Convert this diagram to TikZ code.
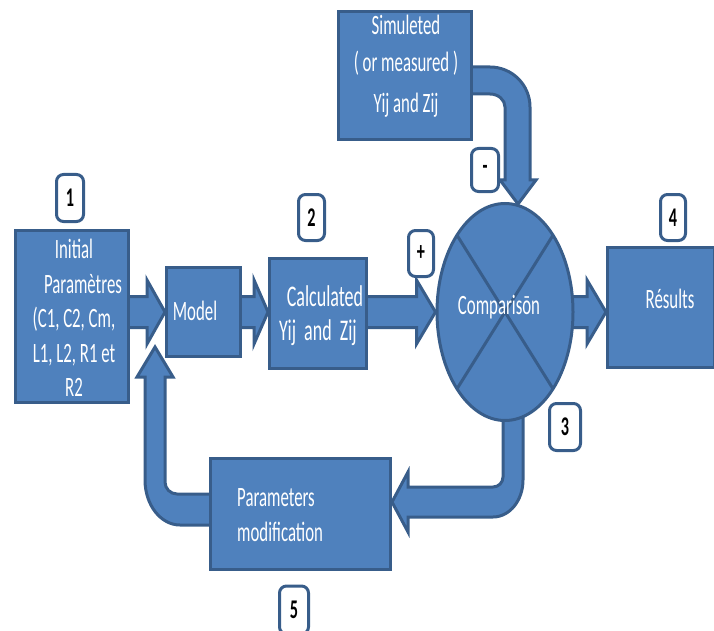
\documentclass[tikz,border=0pt]{standalone}
\usepackage{fontspec}
\setmainfont{Carlito}[FakeStretch=0.6]
\usetikzlibrary{shapes.geometric,calc}
\pgfdeclarelayer{bg}
\pgfsetlayers{bg,main}
\definecolor{bfill}{RGB}{79,129,189}
\definecolor{bline}{RGB}{56,93,138}
\tikzset{
 blk/.style={draw=bline,fill=bfill,line width=3pt,inner sep=0pt},
 txt/.style={text=white,font=\fontsize{28}{34.5}\selectfont,inner sep=0pt,align=center},
 tag/.style={draw=bline,fill=white,line width=3pt,rounded corners=7pt,inner sep=0pt,font=\fontsize{27}{27}\selectfont\bfseries,text=black},
 barrow/.style={draw=bline,fill=bfill,line width=3pt,line join=miter},
 xline/.style={draw=bline,line width=3pt,shorten >=1.5pt,shorten <=1.5pt},
}
\newcommand\hblock[3]{%
 \draw[barrow] let \p1=(#1),\p2=(#2) in (\x1-3pt,\y1+15.5pt) -- (\x2-#3pt,\y1+15.5pt) -- (\x2-#3pt,\y1+32pt) -- (\x2,\y1) -- (\x2-#3pt,\y1-32pt) -- (\x2-#3pt,\y1-15.5pt) -- (\x1-3pt,\y1-15.5pt) -- cycle;}
\begin{document}
\begin{tikzpicture}[x=1pt,y=1pt]
\useasboundingbox (0,0) rectangle (714,-631);
\clip (0,0) rectangle (714,-631);
% boxes
\node[blk,minimum width=113pt,minimum height=172pt] (init) at (72,-316.5) {};
\node[blk,minimum width=74pt,minimum height=89pt] (model) at (203.5,-312) {};
\node[blk,minimum width=97pt,minimum height=110pt] (calc) at (318,-313.5) {};
\node[blk,minimum width=133pt,minimum height=128pt] (sim) at (405,-75.5) {};
\node[blk,ellipse,minimum width=136pt,minimum height=217pt] (comp) at (505,-312) {};
\node[blk,minimum width=107pt,minimum height=120pt] (res) at (661,-307.5) {};
\node[blk,minimum width=180pt,minimum height=111pt] (param) at (300.5,-514) {};
% cross in the comparator
\draw[xline] (comp.58) -- (comp.238);
\draw[xline] (comp.122) -- (comp.302);
% texts
\node[txt] (initT) at (74,-318) {Initial\\\hspace*{18pt}Paramètres\\(C1, C2, Cm,\\L1, L2, R1 et\\R2};
\node[txt] (modelT) at (195,-311) {Model};
\node[txt,font=\fontsize{30}{34}\selectfont] (calcT) at (318,-316) {\hspace*{14pt}Calculated\\Yij\ \ and\ \ Zij};
\node[txt] (simT) at (406,-66) {Simuleted\\[2.5pt]( or measured )\\[6.5pt]Yij and Zij};
\node[txt] (compT) at (499,-307) {Comparisōn};
\node[txt] (resT) at (670,-298.5) {Résults};
\node[txt,anchor=west,align=left] (paramT) at (237,-515) {Parameters\\modification};
% number tags
\node[tag,minimum width=27pt,minimum height=47pt] (n1) at (70,-198) {1};
\node[tag,minimum width=26pt,minimum height=46pt] (n2) at (311.5,-217.5) {2};
\node[tag,minimum width=25pt,minimum height=46pt] (nplus) at (421,-253.5) {+};
\node[tag,minimum width=27pt,minimum height=43pt] (nminus) at (485,-170) {-};
\node[tag,minimum width=31pt,minimum height=47pt] (n3) at (565,-427) {3};
\node[tag,minimum width=25pt,minimum height=46pt] (n4) at (673,-217.5) {4};
\node[tag,minimum width=29pt,minimum height=48pt] (n5) at (294,-610) {5};
% block arrows
\begin{pgfonlayer}{bg}
\hblock{init.east |- model.west}{model.west}{18}
\hblock{model.east}{calc.west}{14}
\hblock{calc.east |- comp.west}{comp.west}{19}
\hblock{comp.east}{res.west}{19}
\draw[barrow] let \p1=(sim.east),\p2=(comp.north) in
 (\x1-3pt,\y1+8.5pt) -- (\x2-15pt,\y1+8.5pt) arc[start angle=90,end angle=0,radius=40pt]
 -- (\x2+25pt,\y2+22pt) -- (\x2+31pt,\y2+22pt) -- (\x2+13pt,\y2-2pt) -- (\x2-5pt,\y2+22pt)
 -- (\x2,\y2+22pt) -- (\x2,\y1-31.5pt) arc[start angle=0,end angle=90,x radius=15pt,y radius=13pt]
 -- (\x1-3pt,\y1-18.5pt) -- cycle;
\draw[barrow] let \p1=(comp.south),\p2=(param.east) in
 (\x1-2pt,\y1+12pt) -- (\x1+18pt,\y1+12pt) -- (\x1+18pt,\y2+34pt)
 arc[start angle=0,end angle=-90,x radius=30pt,y radius=37pt]
 -- (\x2+16pt,\y2-3pt) -- (\x2+16pt,\y2-18pt) -- (\x2,\y2+12pt) -- (\x2+16pt,\y2+42pt)
 -- (\x2+16pt,\y2+27pt) -- (\x1-12pt,\y2+27pt) arc[start angle=-90,end angle=0,radius=10pt] -- cycle;
\draw[barrow] let \p1=(param.west),\p2=(model.south west) in
 (\x1+3pt,\y1+20pt) -- (\x2+12pt,\y1+20pt) arc[start angle=-90,end angle=-180,radius=12pt]
 -- (\x2,\y2-19pt) -- (\x2+8pt,\y2-19pt) -- (\x2-10pt,\y2+11pt) -- (\x2-28pt,\y2-19pt)
 -- (\x2-20pt,\y2-19pt) -- (\x2-20pt,\y1+34pt) arc[start angle=180,end angle=270,x radius=35pt,y radius=45pt]
 -- (\x1+3pt,\y1-11pt) -- cycle;
\end{pgfonlayer}
\end{tikzpicture}
\end{document}
